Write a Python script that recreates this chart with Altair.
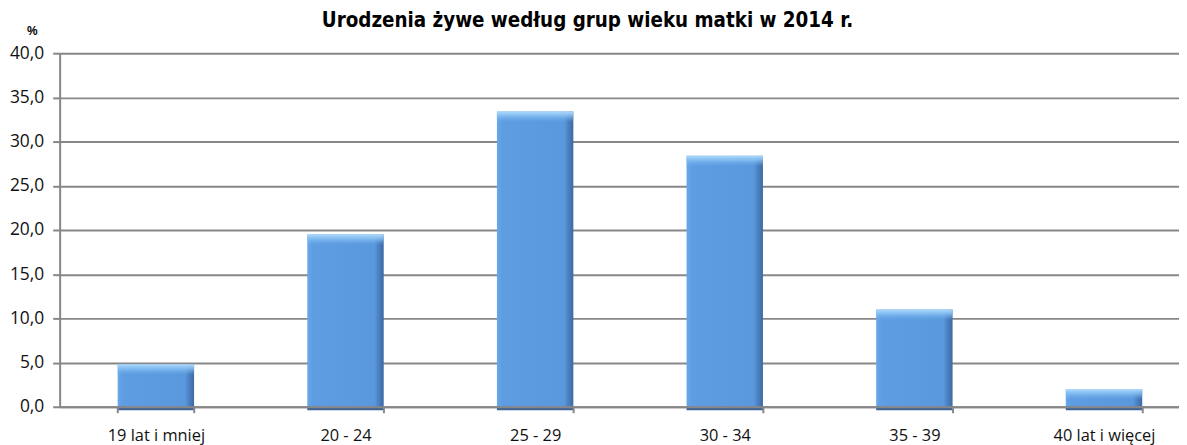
import altair as alt
import pandas as pd

categories = ["19 lat i mniej", "20 - 24", "25 - 29", "30 - 34", "35 - 39", "40 lat i więcej"]
values = [4.8, 19.5, 33.4, 28.4, 11.0, 2.0]
y_ticks = [0, 5, 10, 15, 20, 25, 30, 35, 40]
title_text = "Urodzenia żywe według grup wieku matki w 2014 r."
y_unit = "%"

df = pd.DataFrame({"grupa": categories, "udzial": values})

LABEL_FONT = "Open Sans, Lato, Liberation Sans, sans-serif"
TITLE_FONT = "Liberation Sans Narrow, DejaVu Sans Condensed, Roboto Condensed, DejaVu Sans, sans-serif"
GRID = "#878787"

xscale = alt.Scale(paddingInner=0.597, paddingOuter=0.25, align=0.612)
yscale = alt.Scale(domain=[0, 40], nice=False)

x_axis = alt.Axis(
    title=None, labelAngle=0, labelFont=LABEL_FONT, labelFontSize=16.5, labelColor="#111111",
    labelPadding=15, tickBand="extent", tickSize=6, tickColor=GRID, tickWidth=2,
    domainColor=GRID, domainWidth=2, zindex=1, grid=False,
)
y_axis = alt.Axis(
    title=y_unit, titleAngle=0, titleX=-28, titleY=-23, titleAlign="center", titleBaseline="middle",
    titleFont="Liberation Sans, sans-serif", titleFontSize=12, titleFontWeight="bold", titleColor="#000000",
    values=y_ticks, labelExpr="replace(format(datum.value, '.1f'), '.', ',')",
    labelFont=LABEL_FONT, labelFontSize=17.5, labelColor="#111111", labelPadding=9,
    tickSize=7, tickColor=GRID, tickWidth=2, domainColor=GRID, domainWidth=2,
    gridColor=GRID, gridWidth=2, gridOpacity=1,
)

X = alt.X("grupa:N", sort=categories, scale=xscale, axis=x_axis)

base = alt.Chart(df).transform_calculate(
    zero="0", foot_lo="-0.4", bevel_lo="datum.udzial - 1.2"
)

main = base.mark_bar(
    fill=alt.Gradient(
        gradient="linear", x1=0, x2=1, y1=0, y2=0,
        stops=[
            alt.GradientStop(offset=0, color="#6aa7e8"),
            alt.GradientStop(offset=0.07, color="#5e9de2"),
            alt.GradientStop(offset=0.88, color="#5a98dd"),
            alt.GradientStop(offset=0.93, color="#4c82c4"),
            alt.GradientStop(offset=1, color="#3d6aa3"),
        ],
    )
).encode(
    x=X,
    y=alt.Y("udzial:Q", scale=yscale, axis=y_axis),
    y2=alt.Y2("zero:Q"),
)

bevel = base.mark_bar(
    fill=alt.Gradient(
        gradient="linear", x1=0, x2=0, y1=0, y2=1,
        stops=[
            alt.GradientStop(offset=0, color="rgba(175,218,251,1)"),
            alt.GradientStop(offset=0.4, color="rgba(140,196,245,0.8)"),
            alt.GradientStop(offset=1, color="rgba(110,172,235,0)"),
        ],
    )
).encode(
    x=X,
    y=alt.Y("udzial:Q", scale=yscale, axis=y_axis),
    y2=alt.Y2("bevel_lo:Q"),
)

foot = base.mark_bar(color="#3d6296").encode(
    x=X,
    y=alt.Y("zero:Q", scale=yscale, axis=y_axis),
    y2=alt.Y2("foot_lo:Q"),
)

chart = alt.layer(main, bevel, foot).properties(
    width=1127,
    height=356,
    background="white",
    autosize=alt.AutoSizeParams(type="none"),
    padding={"left": 52, "top": 44, "right": 0, "bottom": 37},
    title=alt.TitleParams(
        title_text, anchor="middle", dx=-32, dy=23, offset=16,
        font=TITLE_FONT, fontSize=20.5, fontWeight="bold", color="#000000",
    ),
).configure_view(stroke=None)

chart.save("out.html", embed_options={"renderer": "svg", "actions": False})
